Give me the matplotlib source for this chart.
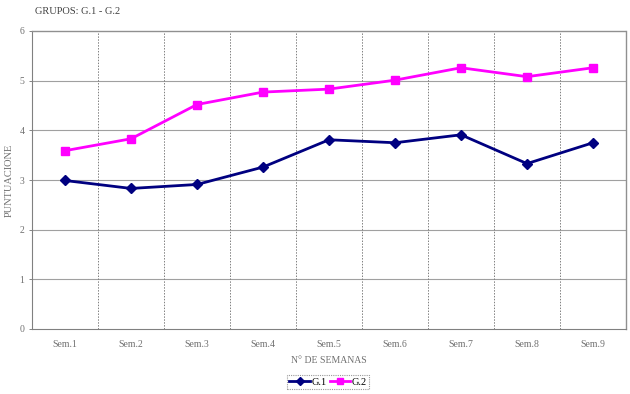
import matplotlib
matplotlib.use("Agg")
import matplotlib.pyplot as plt

semanas = ["Sem.1", "Sem.2", "Sem.3", "Sem.4", "Sem.5", "Sem.6", "Sem.7", "Sem.8", "Sem.9"]
g1 = [2.99, 2.83, 2.91, 3.26, 3.81, 3.75, 3.91, 3.33, 3.75]
g2 = [3.59, 3.83, 4.52, 4.77, 4.83, 5.01, 5.26, 5.08, 5.26]

plt.rcParams['font.family'] = ['Liberation Serif', 'DejaVu Serif']
txt = '#707070'

fig = plt.figure(figsize=(6.3, 3.94), dpi=100)
ax = fig.add_axes([32/630, 1 - 329/394, (626-32)/630, (329-31)/394])

x = list(range(len(semanas)))
ax.plot(x, g1, color='#000080', lw=2, marker='D', ms=5.5, label='G.1')
ax.plot(x, g2, color='#FF00FF', lw=2, marker='s', ms=6, label='G.2')

ax.set_xlim(-0.5, len(semanas) - 0.5)
ax.set_ylim(0, 6)
ax.set_yticks(range(7))
ax.set_xticks(x)
ax.set_xticklabels(semanas)
ax.tick_params(axis='both', labelsize=7, colors=txt, length=2, width=0.6)
ax.tick_params(axis='x', length=0, pad=8)

for yv in range(1, 6):
    ax.axhline(yv, color='#a0a0a0', lw=0.8, zorder=0)
for xv in range(1, len(semanas)):
    ax.axvline(xv - 0.5, color='#808080', lw=0.7, ls=(0, (1.5, 1.5)), zorder=0)

ax.spines['left'].set_color('#808080')
ax.spines['bottom'].set_color('#808080')
for s in ('top', 'right'):
    ax.spines[s].set_color('#909090')
    ax.spines[s].set_linestyle((0, (1, 1)))
    ax.spines[s].set_linewidth(1)

ax.set_xlabel('N° DE SEMANAS', fontsize=7, color=txt, labelpad=5)
ax.set_ylabel('PUNTUACIONE', fontsize=7.5, color=txt, labelpad=4)
fig.text(35/630, 1 - 12/394, 'GRUPOS: G.1 - G.2', fontsize=7.5, color='#404040', va='center')

leg = fig.legend(loc='center', bbox_to_anchor=(328/630, 1 - 382/394), ncol=2, fontsize=7.5,
                 frameon=True, fancybox=False, handlelength=2.0, handletextpad=0.1,
                 columnspacing=0.3, borderpad=0.25, markerscale=0.8)
leg.get_frame().set_edgecolor('#808080')
leg.get_frame().set_linestyle((0, (1, 1)))
leg.get_frame().set_linewidth(0.8)

fig.savefig('out.png', dpi=100)
